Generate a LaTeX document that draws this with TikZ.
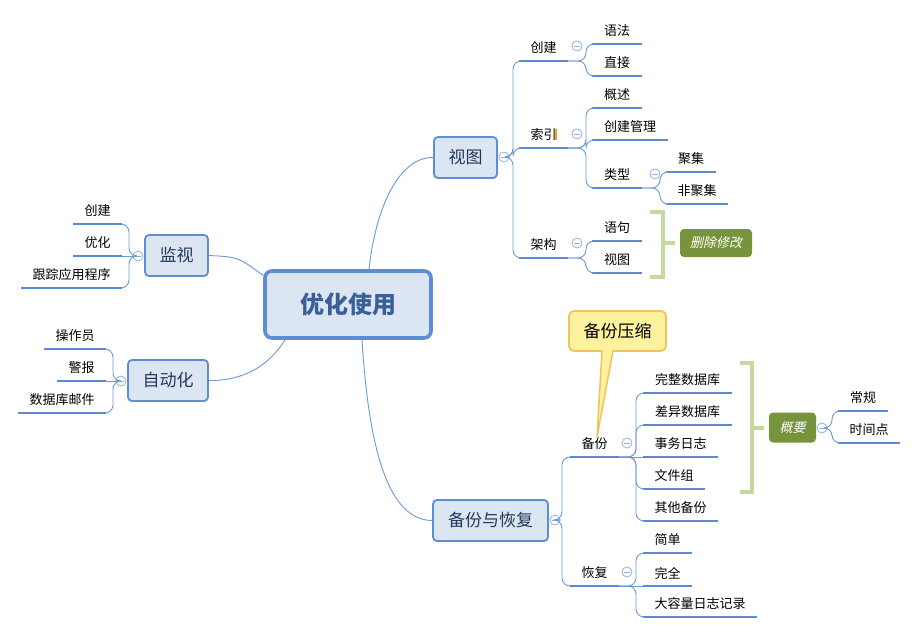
\documentclass[tikz,border=0pt]{standalone}
\usepackage{fontspec}
\setmainfont{Noto Sans CJK SC}
\newfontfamily\cjkit[FakeSlant=0.22]{Noto Sans CJK SC}
\usetikzlibrary{calc}
\definecolor{ulc}{HTML}{5A8AD1}
\definecolor{connc}{HTML}{6C9AD6}
\definecolor{topf}{HTML}{DCE6F2}
\definecolor{topb}{HTML}{5B8ED6}
\definecolor{topt}{HTML}{25385A}
\definecolor{ctrt}{HTML}{3A5F99}
\definecolor{btnc}{HTML}{93B1DD}
\definecolor{brkc}{HTML}{C5D89E}
\definecolor{summf}{HTML}{77933C}
\definecolor{callf}{HTML}{FFF29F}
\definecolor{callb}{HTML}{F3C25A}
\definecolor{cursc}{HTML}{F0A030}
\newcommand\mmsub[5]{%
  \coordinate (#1-l) at (#2,#4);
  \coordinate (#1-r) at (#3,#4);
  \draw[ul] (#1-l) -- (#1-r);
  \node[lbl] (#1) at ({(#2+#3)/2},{#4-13}) {#5};
}
\begin{document}
\begin{tikzpicture}[x=1pt,y=-1pt,
  ul/.style={draw=ulc, line width=2.6pt},
  conn/.style={draw=connc, line width=0.9pt},
  branch/.style={conn, rounded corners=8pt},
  lbl/.style={font=\fontsize{13}{13}\selectfont, inner sep=0pt, text=black},
  topic/.style={draw=topb, fill=topf, line width=1.8pt, rounded corners=4pt,
    font=\fontsize{17}{17}\selectfont, text=topt, inner sep=0pt, minimum height=41pt},
  central/.style={draw=topb, fill=topf, line width=3.6pt, rounded corners=7pt,
    font=\fontsize{24}{24}\selectfont\bfseries, text=ctrt, inner sep=0pt,
    minimum width=166pt, minimum height=67pt},
  btn/.style={circle, draw=btnc, fill=white, line width=0.8pt, minimum size=10pt, inner sep=0pt,
    path picture={\draw[btnc, line width=0.8pt]
      ([xshift=-2.6pt]path picture bounding box.center) -- ([xshift=2.6pt]path picture bounding box.center);}},
  brk/.style={draw=brkc, line width=4pt, line join=miter},
  summ/.style={fill=summf, rounded corners=4pt, text=white, inner sep=0pt,
    font=\fontsize{13}{13}\selectfont\cjkit},
  call/.style={fill=callf, draw=callb, line width=1.8pt, rounded corners=5pt,
    inner sep=0pt, minimum width=97pt, minimum height=40pt,
    font=\fontsize{17}{17}\selectfont, text=black}
]
\useasboundingbox[fill=white] (0,0) rectangle (918,634);

% ---------- main nodes ----------
\node[central] (ctr) at (348,304.5) {优化使用};
\node[topic, minimum width=63pt] (shitu) at (465.5,157.5) {视图};
\node[topic, minimum width=63pt] (jianshi) at (176.5,255.5) {监视};
\node[topic, minimum width=80pt] (zdh) at (168,380.5) {自动化};
\node[topic, minimum width=115pt] (bfhf) at (490.5,520.5) {备份与恢复};

% ---------- central connectors ----------
\draw[conn] ([xshift=21pt]ctr.north) .. controls (376,205) and (400,157) .. (shitu.west);
\draw[conn] ([yshift=29pt]ctr.west) .. controls (238,257) .. (jianshi.east);
\draw[conn] ([xshift=-63pt]ctr.south) .. controls (265,372) and (235,381) .. (zdh.east);
\draw[conn] ([xshift=14pt]ctr.south) .. controls (370,470) and (395,520) .. (bfhf.west);

% ---------- 视图 ----------
\mmsub{cj}{519}{568}{61}{创建}
\mmsub{sy}{519}{568}{148}{索引}
\mmsub{jg}{519}{568}{258}{架构}
\mmsub{yf}{592}{642}{44}{语法}
\mmsub{zj}{592}{642}{76}{直接}
\mmsub{gs}{592}{642}{108}{概述}
\mmsub{cjgl}{592}{668}{140}{创建管理}
\mmsub{lx}{592}{642}{188}{类型}
\mmsub{jj}{666}{716}{172}{聚集}
\mmsub{fjj}{666}{728}{204}{非聚集}
\mmsub{yj}{592}{642}{241}{语句}
\mmsub{st}{592}{642}{273}{视图}

\node[btn] (btnV) at (504,157) {};
\node[btn] (btnCJ) at (577,46) {};
\node[btn] (btnSY) at (577,134) {};
\node[btn] (btnLX) at (655,174) {};
\node[btn] (btnJG) at (577,243) {};

\draw[branch] (btnV.east) -- (513,157) |- (cj-l);
\draw[branch] (btnV.east) -- (513,157) |- (sy-l);
\draw[branch] (btnV.east) -- (513,157) |- (jg-l);
\draw[branch] (cj-r) -- (586,61) |- (yf-l);
\draw[branch] (cj-r) -- (586,61) |- (zj-l);
\draw[branch] (sy-r) -- (586,148) |- (gs-l);
\draw[branch] (sy-r) -- (586,148) |- (cjgl-l);
\draw[branch] (sy-r) -- (586,148) |- (lx-l);
\draw[branch] (lx-r) -- (660,188) |- (jj-l);
\draw[branch] (lx-r) -- (660,188) |- (fjj-l);
\draw[branch] (jg-r) -- (586,258) |- (yj-l);
\draw[branch] (jg-r) -- (586,258) |- (st-l);

\draw[cursc, line width=1.4pt] (556,129) -- (556,140);

% summary 删除修改
\draw[brk] (650,212) -- (663,212) -- (663,277) -- (650,277);
\coordinate (brkA) at (675,243);
\draw[brk] (663,243) -- (brkA);
\node[summ, minimum width=72pt, minimum height=28pt] (scxg) at (716,243) {删除修改};

% ---------- 备份与恢复 ----------
\mmsub{bf}{570}{619}{457}{备份}
\mmsub{hf}{570}{619}{586}{恢复}
\mmsub{wz}{643}{732}{393}{完整数据库}
\mmsub{cy}{643}{732}{425}{差异数据库}
\mmsub{sw}{643}{718}{457}{事务日志}
\mmsub{wjz}{643}{705}{489}{文件组}
\mmsub{qt}{643}{718}{521}{其他备份}
\mmsub{jd}{643}{692}{553}{简单}
\mmsub{wq}{643}{692}{586}{完全}
\mmsub{dr}{643}{757}{617}{大容量日志记录}
\mmsub{cg}{838}{888}{411}{常规}
\mmsub{sjd}{838}{900}{443}{时间点}

\node[btn] (btnBH) at (555,520) {};
\node[btn] (btnBF) at (627,443) {};
\node[btn] (btnHF) at (627,572) {};

\draw[branch] (btnBH.east) -- (562,520) |- (bf-l);
\draw[branch] (btnBH.east) -- (562,520) |- (hf-l);
\draw[branch] (bf-r) -- (636,457) |- (wz-l);
\draw[branch] (bf-r) -- (636,457) |- (cy-l);
\draw[conn] (bf-r) -- (sw-l);
\draw[branch] (bf-r) -- (636,457) |- (wjz-l);
\draw[branch] (bf-r) -- (636,457) |- (qt-l);
\draw[branch] (hf-r) -- (636,586) |- (jd-l);
\draw[conn] (hf-r) -- (wq-l);
\draw[branch] (hf-r) -- (636,586) |- (dr-l);

% summary 概要
\draw[brk] (740,363) -- (752,363) -- (752,492) -- (740,492);
\coordinate (brkB) at (764,428);
\draw[brk] (752,428) -- (brkB);
\node[summ, minimum width=47pt, minimum height=30pt] (gy) at (792.5,427.5) {概要};
\node[btn] (btnGY) at (822,428) {};
\draw[branch] (btnGY.east) -- (832,428) |- (cg-l);
\draw[branch] (btnGY.east) -- (832,428) |- (sjd-l);

% callout 备份压缩
\node[call] (bfys) at (617.5,331) {备份压缩};
\coordinate (tip) at (597,437);
\fill[callf] (602,348) -- (tip) -- (613,348) -- cycle;
\draw[callb, line width=1.5pt, line join=round] (602,351) -- (tip) -- (613,351);

% ---------- 监视 ----------
\mmsub{lcj}{73}{122}{224}{创建}
\mmsub{lyh}{73}{122}{256}{优化}
\mmsub{lgz}{21}{122}{288}{跟踪应用程序}
\node[btn] (btnJS) at (138,256) {};
\draw[branch] (btnJS.west) -- (129,256) |- (lcj-r);
\draw[conn] (btnJS.west) -- (lyh-r);
\draw[branch] (btnJS.west) -- (129,256) |- (lgz-r);

% ---------- 自动化 ----------
\mmsub{czy}{44}{106}{349}{操作员}
\mmsub{jb}{57}{106}{381}{警报}
\mmsub{sjk}{18}{106}{413}{数据库邮件}
\node[btn] (btnZD) at (121,381) {};
\draw[branch] (btnZD.west) -- (113,381) |- (czy-r);
\draw[conn] (btnZD.west) -- (jb-r);
\draw[branch] (btnZD.west) -- (113,381) |- (sjk-r);
\end{tikzpicture}
\end{document}
